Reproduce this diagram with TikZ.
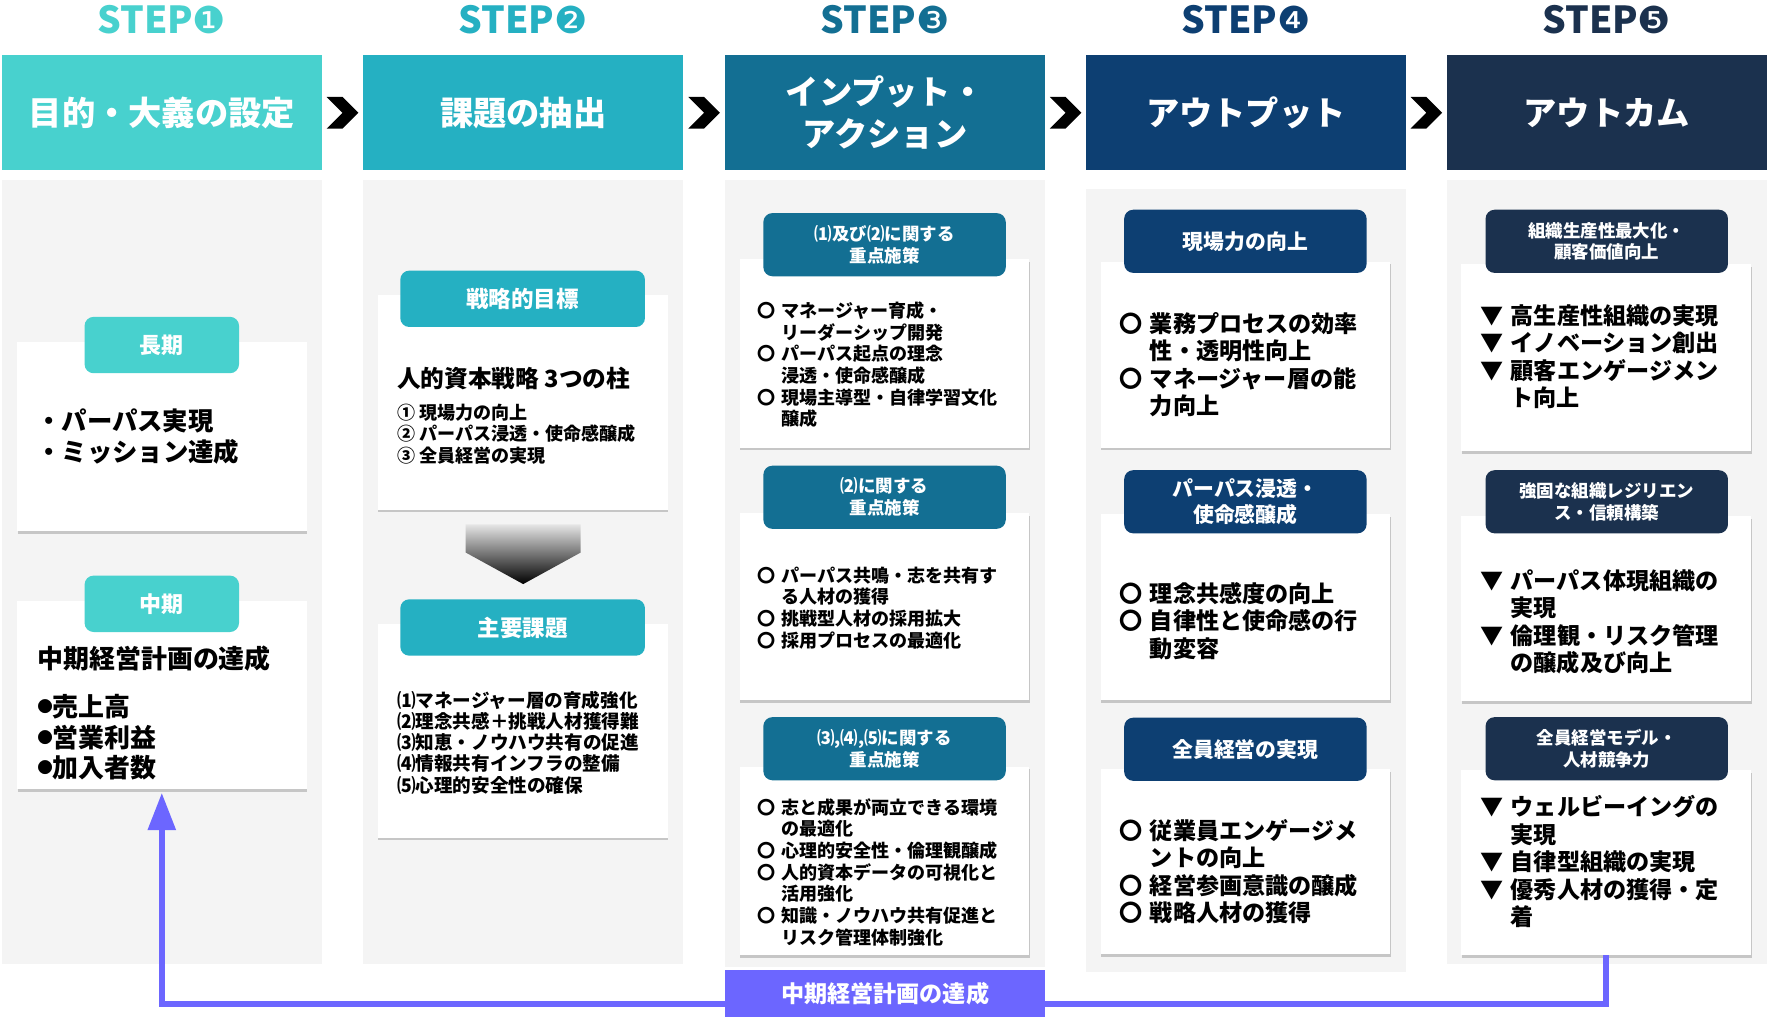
\documentclass[tikz,border=0pt]{standalone}
\usepackage{fontspec}
\usepackage{graphicx}
\setmainfont{Noto Sans CJK JP}
\newfontfamily\dingfont{DejaVu Sans}
\usetikzlibrary{arrows.meta,shadows,calc}
\definecolor{stepA}{HTML}{48D1CE}
\definecolor{stepB}{HTML}{25B0C2}
\definecolor{stepC}{HTML}{136F93}
\definecolor{stepD}{HTML}{0D3F72}
\definecolor{stepE}{HTML}{1B314E}
\definecolor{lanegray}{HTML}{F4F4F4}
\definecolor{loopblue}{HTML}{6C66FF}
\newcommand{\mk}[1]{\makebox[1.3em][l]{#1}}
\newcommand{\ind}{\hspace*{1.3em}}
\newcommand{\dotb}{\makebox[0.6em][l]{\raisebox{0.15em}{\scalebox{0.6}{●}}}}

\begin{document}
\begin{tikzpicture}[x=1pt,y=-1pt,
	lane/.style={fill=lanegray},
	headbox/.style={fill=#1, text=white, minimum width=284, minimum height=102, inner sep=0, align=center, font=\bfseries\fontsize{29.5}{37}\selectfont},
	steplbl/.style={text=#1, inner sep=0, font=\bfseries\fontsize{33}{36}\selectfont},
	card/.style={fill=white, minimum width=257, minimum height=#1, inner sep=0, drop shadow={shadow xshift=0.6pt, shadow yshift=-2.4pt, opacity=0.35, fill=black!55}},
	tag/.style={fill=#1, text=white, rounded corners=8, minimum width=215, minimum height=56, inner sep=0, align=center},
	txt/.style={anchor=west, inner sep=0, align=left},
	small/.style={font=\bfseries\fontsize{16}{19.2}\selectfont},
	big/.style={font=\bfseries\fontsize{20.5}{24.4}\selectfont},
	loopline/.style={draw=loopblue, line width=5},
]
	\fill[white] (0,0) rectangle (1568,913.5);
	\useasboundingbox (0,0) rectangle (1568,913.5);
		% lanes
		\foreach \x/\t/\b in {143.5/160/855, 464/160/855, 785/160/858, 1105/168/862, 1425/160/855}{
			\fill[lane] (\x-142,\t) rectangle (\x+142,\b);
		}
		% steps and headers
		\foreach \n/\x/\c/\d/\t in {1/143.5/stepA/❶/{目的・大義の設定}, 2/464/stepB/❷/{課題の抽出}, 3/785/stepC/❸/{インプット・\\アクション}, 4/1105/stepD/❹/{アウトプット}, 5/1425/stepE/❺/{アウトカム}}{
			\node[steplbl=\c] (S\n) at (\x,17) {STEP{\dingfont\mdseries\d}};
			\node[headbox=\c] (H\n) at (\x,100) {\t};
		}
		\foreach \a/\b in {1/2,2/3,3/4,4/5}{
			\path (H\a.east) -- (H\b.west) coordinate[midway] (m\a);
			\fill (m\a) ++(-14,-14) -- ++(14,0) -- ++(14,14) -- ++(-14,14) -- ++(-14,0) -- ++(14,-14) -- cycle;
		}

		% step 1
		\node[card=168] (card1a) at (143.5,387) {};
		\node[card=167] (card1b) at (143.5,616.5) {};
		\node[tag=stepA, minimum width=137, minimum height=50, font=\bfseries\fontsize{19.5}{22}\selectfont] (tag1a) at (143.5,306) {長期};
		\node[tag=stepA, minimum width=137, minimum height=50, font=\bfseries\fontsize{19.5}{22}\selectfont] (tag1b) at (143.5,535.5) {中期};
		\node[txt, font=\bfseries\fontsize{22.5}{28}\selectfont] (t1a) at (32,387) {・パーパス実現\\・ミッション達成};
		\node[txt, font=\bfseries\fontsize{23}{27}\selectfont] (t1b) at (33,584) {中期経営計画の達成};
		\node[txt, font=\bfseries\fontsize{23}{27}\selectfont] (t1c) at (33,654) {\dotb 売上高\\\dotb 営業利益\\\dotb 加入者数};

		% step 2
		\node[card=190] (card2a) at (463.5,357) {};
		\node[card=190] (card2b) at (463.5,648) {};
		\node[tag=stepB, minimum width=217, minimum height=50, font=\bfseries\fontsize{20}{24}\selectfont] (tag2a) at (463.5,265) {戦略的目標};
		\node[tag=stepB, minimum width=217, minimum height=50, font=\bfseries\fontsize{20}{24}\selectfont] (tag2b) at (463.5,556.5) {主要課題};
		\node[txt, font=\bfseries\fontsize{21}{24}\selectfont] (t2a) at (352,336) {人的資本戦略 3つの柱};
		\node[txt, small] (t2b) at (352,385) {① 現場力の向上\\② パーパス浸透・使命感醸成\\③ 全員経営の実現};
		\node[txt, font=\bfseries\fontsize{16.5}{18.8}\selectfont] (t2c) at (352,658.5) {⑴マネージャー層の育成強化\\⑵理念共感＋挑戦人材獲得難\\⑶知恵・ノウハウ共有の促進\\⑷情報共有インフラの整備\\⑸心理的安全性の確保};
		\shade[top color=black!10, bottom color=black] (413,465) -- (515,465) -- (515,490) -- (464,518) -- (413,490) -- cycle;

		% step 3
		\node[card=167] (card3a) at (784.5,313.5) {};
		\node[card=166] (card3b) at (784.5,538) {};
		\node[card=167] (card3c) at (784.5,763.5) {};
		\node[tag=stepC, font=\bfseries\fontsize{15.5}{19.5}\selectfont] (tag3a) at (784.5,217) {⑴及び⑵に関する\\重点施策};
		\node[tag=stepC, font=\bfseries\fontsize{15.5}{19.5}\selectfont] (tag3b) at (784.5,441) {⑵に関する\\重点施策};
		\node[tag=stepC, font=\bfseries\fontsize{15.5}{19.5}\selectfont] (tag3c) at (784.5,664) {⑶,⑷,⑸に関する\\重点施策};
		\node[txt, small] (t3a) at (672,323.5) {\mk{〇}マネージャー育成・\\\ind リーダーシップ開発\\\mk{〇}パーパス起点の理念\\\ind 浸透・使命感醸成\\\mk{〇}現場主導型・自律学習文化\\\ind 醸成};
		\node[txt, small] (t3b) at (672,539) {\mk{〇}パーパス共鳴・志を共有す\\\ind る人材の獲得\\\mk{〇}挑戦型人材の採用拡大\\\mk{〇}採用プロセスの最適化};
		\node[txt, small] (t3c) at (672,773.5) {\mk{〇}志と成果が両立できる環境\\\ind の最適化\\\mk{〇}心理的安全性・倫理観醸成\\\mk{〇}人的資本データの可視化と\\\ind 活用強化\\\mk{〇}知識・ノウハウ共有促進と\\\ind リスク管理体制強化};

		% step 4
		\node[card=165] (card4a) at (1104.5,314.5) {};
		\node[card=165] (card4b) at (1104.5,538.5) {};
		\node[card=164] (card4c) at (1104.5,764) {};
		\node[tag=stepD, font=\bfseries\fontsize{18.5}{23}\selectfont] (tag4a) at (1104.5,214) {現場力の向上};
		\node[tag=stepD, font=\bfseries\fontsize{18.5}{23}\selectfont] (tag4b) at (1104.5,445) {パーパス浸透・\\使命感醸成};
		\node[tag=stepD, font=\bfseries\fontsize{18.5}{23}\selectfont] (tag4c) at (1104.5,664.5) {全員経営の実現};
		\node[txt, big] (t4a) at (993,323.5) {\mk{〇}業務プロセスの効率\\\ind 性・透明性向上\\\mk{〇}マネージャー層の能\\\ind 力向上};
		\node[txt, big] (t4b) at (993,550.5) {\mk{〇}理念共感度の向上\\\mk{〇}自律性と使命感の行\\\ind 動変容};
		\node[txt, big] (t4c) at (993,773) {\mk{〇}従業員エンゲージメ\\\ind ントの向上\\\mk{〇}経営参画意識の醸成\\\mk{〇}戦略人材の獲得};

		% step 5
		\node[card=166] (card5a) at (1424.5,317) {};
		\node[card=164] (card5b) at (1424.5,540) {};
		\node[card=164] (card5c) at (1424.5,765) {};
		\node[tag=stepE, font=\bfseries\fontsize{15.5}{18.5}\selectfont] (tag5a) at (1425,214) {組織生産性最大化・\\顧客価値向上};
		\node[tag=stepE, font=\bfseries\fontsize{15.5}{19.5}\selectfont] (tag5b) at (1425,445) {強固な組織レジリエン\\ス・信頼構築};
		\node[tag=stepE, font=\bfseries\fontsize{15.5}{19.5}\selectfont] (tag5c) at (1425,664) {全員経営モデル・\\人材競争力};
		\node[txt, big] (t5a) at (1313,316.5) {\mk{▼}高生産性組織の実現\\\mk{▼}イノベーション創出\\\mk{▼}顧客エンゲージメン\\\ind ト向上};
		\node[txt, big] (t5b) at (1313,551.5) {\mk{▼}パーパス体現組織の\\\ind 実現\\\mk{▼}倫理観・リスク管理\\\ind の醸成及び向上};
		\node[txt, big] (t5c) at (1313,764) {\mk{▼}ウェルビーイングの\\\ind 実現\\\mk{▼}自律型組織の実現\\\mk{▼}優秀人材の獲得・定\\\ind 着};

		% feedback loop
		\node[fill=loopblue, text=white, minimum width=284, minimum height=42, inner sep=0, font=\bfseries\fontsize{20.5}{24}\selectfont] (goal) at (785,881) {中期経営計画の達成};
		\coordinate (gl) at ($(goal.south west)!0.28!(goal.north west)$);
		\coordinate (gr) at ($(goal.south east)!0.28!(goal.north east)$);
		\draw[loopline, -{Triangle[width=24pt,length=33pt]}, shorten >=3pt] (gl) -| (card1b.south);
		\draw[loopline] (gr) -| (card5c.south);
	\end{tikzpicture}
\end{document}
